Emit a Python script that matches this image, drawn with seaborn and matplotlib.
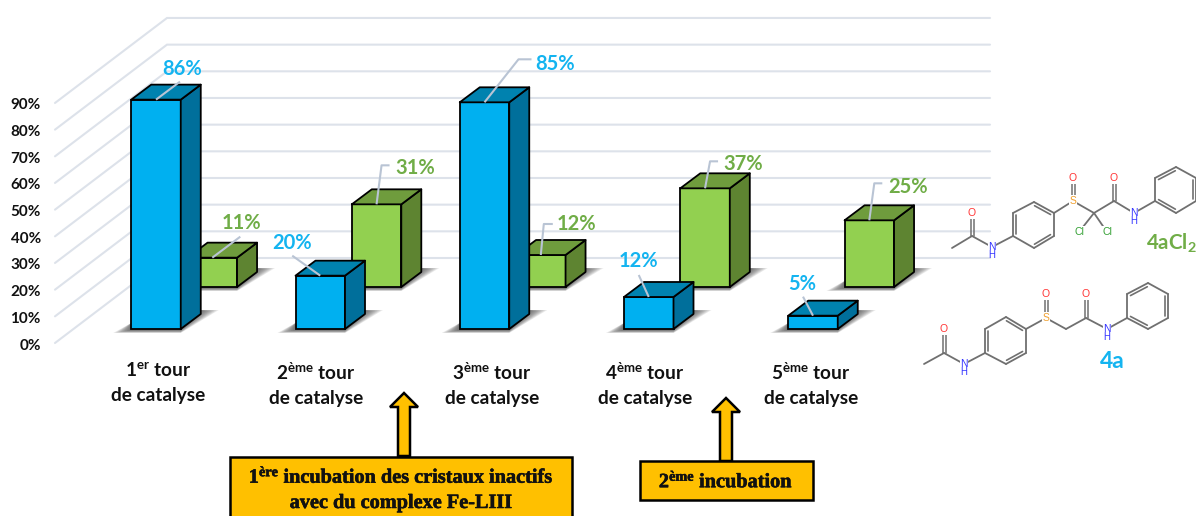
import matplotlib
matplotlib.use("Agg")
import matplotlib.pyplot as plt
import matplotlib.patheffects as pe
from matplotlib.patches import Polygon, Rectangle
import numpy as np
import pandas as pd
import seaborn as sns

# ---------- data ----------
rounds = ["1$^{er}$ tour\nde catalyse", "2$^{ème}$ tour\nde catalyse", "3$^{ème}$ tour\nde catalyse",
          "4$^{ème}$ tour\nde catalyse", "5$^{ème}$ tour\nde catalyse"]
blue_values = [86, 20, 85, 12, 5]
green_values = [11, 31, 12, 37, 25]
percent_ticks = [0, 10, 20, 30, 40, 50, 60, 70, 80, 90]

# ---------- layout (pixels of the 1196x516 canvas) ----------
W, H = 1196, 516
PX_CAT, PX_PCT = 164.25, 2.667       # pixels per category, per percent
X0_PX, Y0_PX = 156, 329              # first blue bar centre, blue baseline
AX_LEFT, AX_BOTTOM = 44, 355
DEPTH_X, DEPTH_Y = 20, 15
BAR_W = 49.5
GREEN_SHIFT = 56.3
GREEN_BASE_PX = 287
WALL_BASE_PX = 258
FRONT_BASE_PX = 343
TICK_BASE_PX = 344
WALL_LEFT, WALL_RIGHT, FLOOR_LEFT = 167, 990, 55
LABEL_CENTRES = [158, 316, 492, 645, 811]

BLUE, BLUE_SIDE, BLUE_TOP, BLUE_TEXT = "#00B0F0", "#006F9B", "#0082AF", "#14B4F0"
GREEN, GREEN_SIDE, GREEN_TOP, GREEN_TEXT = "#92D050", "#5E8431", "#6F9C3D", "#70AD47"
GRID = "#DDE2EA"; LEADER = "#B9C4D4"; GOLD = "#FFC000"

# leader polylines, offsets in px from the top-front centre of each bar; text offset last
blue_leaders = [([(0, 0), (24, -18)], (26, -31)),
                ([(0, 0), (-28, -20)], (-28, -33)),
                ([(0, 0), (34, -43), (47, -43)], (71, -38)),
                ([(0, 0), (-10, -22)], (-10, -36)),
                ([(0, 0), (-10, -19)], (-11, -32))]
green_leaders = [([(0, 0), (28, -21)], (29, -35)),
                 ([(0, 0), (5, -39), (13, -39)], (39, -36)),
                 ([(0, 0), (3, -31), (12, -31)], (36, -31)),
                 ([(0, 0), (5, -27), (13, -27)], (38, -24)),
                 ([(0, 0), (5, -37), (13, -37)], (39, -33))]

sns.set_theme(style="white", rc={"axes.facecolor": "none"})
plt.rcParams["font.family"] = ["Lato", "DejaVu Sans"]
plt.rcParams["mathtext.default"] = "regular"

fig = plt.figure(figsize=(W / 100, H / 100), dpi=100, facecolor="white")
ax = fig.add_axes([AX_LEFT / W, 1 - AX_BOTTOM / H, 1 - AX_LEFT / W, AX_BOTTOM / H])

cat = lambda px: (px - X0_PX) / PX_CAT
pct = lambda px: (Y0_PX - px) / PX_PCT
dx_c, dy_p = DEPTH_X / PX_CAT, DEPTH_Y / PX_PCT
width_c = BAR_W / PX_CAT
green_base = pct(GREEN_BASE_PX)
green_shift = GREEN_SHIFT / PX_CAT

positions = np.arange(len(rounds), dtype=float)
df_blue = pd.DataFrame({"pos": positions, "val": blue_values})
df_green = pd.DataFrame({"pos": positions + green_shift, "val": green_values})

# 3D-looking back wall and side wall
for t in percent_ticks:
    ax.plot([cat(FLOOR_LEFT), cat(WALL_LEFT), cat(WALL_RIGHT)],
            [pct(FRONT_BASE_PX) + t, pct(WALL_BASE_PX) + t, pct(WALL_BASE_PX) + t],
            color=GRID, lw=1.5, zorder=1, solid_joinstyle="miter")


def soft_shadow(x_left, x_right, base):
    l, r = x_left, x_right
    for k in range(9):
        s = k * 1.9
        pts = [(cat(l - 18 + s), pct(base + 4 - k * .3)), (cat(r), pct(base + 4 - k * .3)),
               (cat(r + 38 - s), pct(base - 19 + k * .1)), (cat(r + DEPTH_X), pct(base - 19)),
               (cat(l), pct(base - 6))]
        ax.add_patch(Polygon(pts, closed=True, fc="#3A3A3A", ec="none", alpha=0.11, zorder=1.5))


def depth_faces(xs, vals, base, side, top, z):
    for x, v in zip(xs, vals):
        l, r = x - width_c / 2, x + width_c / 2
        b, t = base, base + v
        ax.add_patch(Polygon([(r, b), (r + dx_c, b + dy_p), (r + dx_c, t + dy_p), (r, t)], closed=True,
                             fc=side, ec="black", lw=1.3, zorder=z, joinstyle="round"))
        ax.add_patch(Polygon([(l, t), (r, t), (r + dx_c, t + dy_p), (l + dx_c, t + dy_p)], closed=True,
                             fc=top, ec="black", lw=1.3, zorder=z, joinstyle="round"))


for x in df_green["pos"]:
    px = X0_PX + x * PX_CAT
    soft_shadow(px - BAR_W / 2, px + BAR_W / 2, GREEN_BASE_PX)
for x in df_blue["pos"]:
    px = X0_PX + x * PX_CAT
    soft_shadow(px - BAR_W / 2, px + BAR_W / 2, Y0_PX)

sns.barplot(data=df_green, x="pos", y="val", native_scale=True, width=width_c, color=GREEN, saturation=1,
            edgecolor="black", linewidth=1.3, errorbar=None, bottom=green_base, zorder=3, ax=ax)
depth_faces(df_green["pos"], green_values, green_base, GREEN_SIDE, GREEN_TOP, 3)
sns.barplot(data=df_blue, x="pos", y="val", native_scale=True, width=width_c, color=BLUE, saturation=1,
            edgecolor="black", linewidth=1.3, errorbar=None, zorder=5, ax=ax)
depth_faces(df_blue["pos"], blue_values, 0, BLUE_SIDE, BLUE_TOP, 5)


def labels(xs, vals, base, leaders, colour):
    for x, v, (line, txt) in zip(xs, vals, leaders):
        ax.plot([x + p[0] / PX_CAT for p in line], [base + v - p[1] / PX_PCT for p in line],
                color=LEADER, lw=1.5, zorder=7, solid_capstyle="butt")
        ax.annotate(f"{v}%", xy=(x + txt[0] / PX_CAT, base + v - txt[1] / PX_PCT), ha="center", va="center",
                    color=colour, fontsize=14.5, fontweight="bold", zorder=8)


labels(df_blue["pos"], blue_values, 0, blue_leaders, BLUE_TEXT)
labels(df_green["pos"], green_values, green_base, green_leaders, GREEN_TEXT)

ax.set_xlim(cat(AX_LEFT), cat(W))
ax.set_ylim(pct(AX_BOTTOM), pct(0))
ax.set_xticks([cat(p) for p in LABEL_CENTRES], labels=rounds, fontsize=13.7, fontweight="bold", color="#111111",
              linespacing=1.52)
ax.set_yticks([pct(TICK_BASE_PX) + t for t in percent_ticks], labels=[f"{t}%" for t in percent_ticks],
              fontsize=11, fontweight="bold", color="#111111")
ax.tick_params(axis="both", length=0)
ax.tick_params(axis="x", pad=4.5)
ax.tick_params(axis="y", pad=2.3)
ax.set_xlabel("")
ax.set_ylabel("")
sns.despine(ax=ax, left=True, bottom=True)

# ---------- overlay in canvas pixels: call-outs and molecules ----------
ov = fig.add_axes([0, 0, 1, 1], facecolor="none", zorder=5)
ov.set_xlim(0, W)
ov.set_ylim(H, 0)
ov.axis("off")


def arrow(xc, tip, bottom):
    hw, sw, head = 14, 6, 14
    ov.add_patch(Polygon([(xc, tip), (xc + hw, tip + head), (xc + sw, tip + head), (xc + sw, bottom),
                          (xc - sw, bottom), (xc - sw, tip + head), (xc - hw, tip + head)], closed=True,
                         fc=GOLD, ec="black", lw=1.8, joinstyle="miter"))


arrow(404, 393, 456)
arrow(726, 398, 461)
ov.add_patch(Rectangle((230, 457), 342, 70, fc=GOLD, ec="black", lw=1.8))
ov.add_patch(Rectangle((640, 461), 173, 39, fc=GOLD, ec="black", lw=1.8))
serif = dict(family="Liberation Serif", fontweight="bold", fontsize=14.6, ha="center", va="center", color="#111111",
             path_effects=[pe.withStroke(linewidth=0.4, foreground="#111111")])
ov.text(401, 477, "1$^{ère}$ incubation des cristaux inactifs", **serif)
ov.text(401, 503, "avec du complexe Fe-LIII", **serif)
ov.text(726, 481.5, "2$^{ème}$ incubation", **serif)

BOND = "#707070"
ATOM = {"O": "#FF3333", "N": "#3333FF", "S": "#F0A030", "Cl": "#33A033"}


def molecule(nodes, bonds, doubles, atoms, hydrogens):
    for a, b in bonds:
        ov.plot(*zip(nodes[a], nodes[b]), color=BOND, lw=1.3, zorder=1)
    for a, b, side in doubles:
        p, q = np.array(nodes[a], float), np.array(nodes[b], float)
        d = q - p
        u = np.array([-d[1], d[0]]) / np.hypot(*d)
        if side == 0:      # centred pair of strokes
            for s in (-1.5, 1.5):
                ov.plot(*zip(p + u * s, q + u * s), color=BOND, lw=1.1, zorder=1)
        else:              # inner ring stroke
            ov.plot(*zip(p + u * 3 * side + d * .1, q + u * 3 * side - d * .1), color=BOND, lw=1.2, zorder=1)
    for k, sym in atoms.items():
        ov.text(*nodes[k], sym, color=ATOM[sym], fontsize=7.5, ha="center", va="center", zorder=3,
                family="Liberation Sans", bbox=dict(fc="white", ec="none", pad=0.5))
    for k in hydrogens:
        ov.text(nodes[k][0], nodes[k][1] + 8, "H", color=ATOM["N"], fontsize=7, ha="center", va="center", zorder=3,
                family="Liberation Sans")


nodes_4a = {"me": (924, 364), "c1": (944, 353), "o1": (944, 329), "n1": (964, 364),
            "r1": (985, 353), "r2": (985, 329), "r3": (1006, 317), "r4": (1026, 329), "r5": (1026, 353), "r6": (1006, 364),
            "s": (1046, 318), "o2": (1046, 294), "ch2": (1066, 329), "c2": (1086, 318), "o3": (1086, 294), "n2": (1107, 329),
            "p1": (1127, 318), "p2": (1127, 294), "p3": (1148, 283), "p4": (1168, 294), "p5": (1168, 318), "p6": (1148, 329)}
bonds_common = [("me", "c1"), ("c1", "n1"), ("n1", "r1"), ("r1", "r2"), ("r2", "r3"), ("r3", "r4"),
                ("r4", "r5"), ("r5", "r6"), ("r6", "r1"), ("r4", "s"), ("s", "ch2"), ("ch2", "c2"),
                ("c2", "n2"), ("n2", "p1"), ("p1", "p2"), ("p2", "p3"), ("p3", "p4"), ("p4", "p5"),
                ("p5", "p6"), ("p6", "p1")]
doubles_common = [("c1", "o1", 0), ("s", "o2", 0), ("c2", "o3", 0), ("r1", "r2", 1), ("r3", "r4", 1), ("r5", "r6", 1),
                  ("p2", "p3", 1), ("p4", "p5", 1), ("p6", "p1", 1)]
atoms_common = {"o1": "O", "n1": "N", "s": "S", "o2": "O", "o3": "O", "n2": "N"}
molecule(nodes_4a, bonds_common, doubles_common, atoms_common, ["n1", "n2"])

nodes_cl = {"me": (952, 248), "c1": (972, 236), "o1": (972, 213), "n1": (992, 247),
            "r1": (1013, 236), "r2": (1013, 213), "r3": (1034, 202), "r4": (1054, 213), "r5": (1054, 236), "r6": (1034, 248),
            "s": (1073, 201), "o2": (1073, 178), "ch2": (1094, 213), "c2": (1114, 201), "o3": (1114, 178), "n2": (1134, 213),
            "p1": (1155, 201), "p2": (1155, 178), "p3": (1176, 167), "p4": (1196, 178), "p5": (1196, 201), "p6": (1176, 213),
            "cl1": (1079, 232), "cl2": (1107, 232)}
molecule(nodes_cl, bonds_common + [("ch2", "cl1"), ("ch2", "cl2")], doubles_common,
         {**atoms_common, "cl1": "Cl", "cl2": "Cl"}, ["n1", "n2"])

ov.text(1146, 243, "4aCl$_{2}$", color=GREEN_TEXT, fontsize=14.8, fontweight="bold", ha="left", va="center")
ov.text(1112, 362, "4a", color=BLUE_TEXT, fontsize=16.5, fontweight="bold", ha="center", va="center")

fig.savefig("out.png", dpi=100, facecolor="white")
